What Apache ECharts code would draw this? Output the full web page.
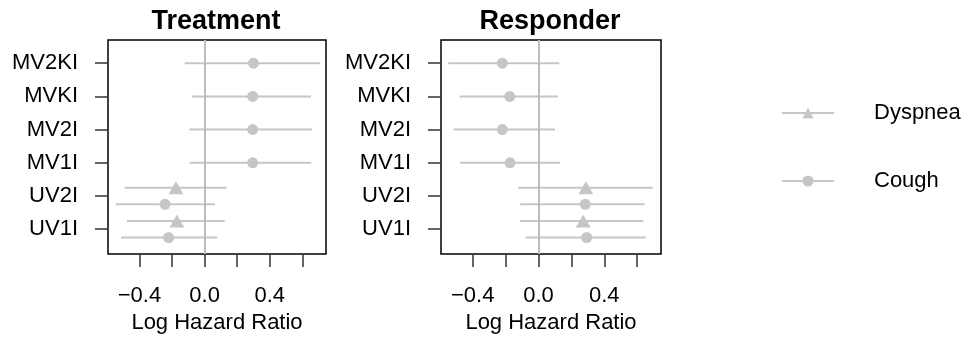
<!DOCTYPE html>
<html style="height: 100%">
<head>
  <meta charset="utf-8">
  <title>forest</title>
</head>
<body style="height: 100%; margin: 0; background: #fff">
<div id="container" style="width: 974px; height: 339px"></div>
<script src="https://cdn.jsdelivr.net/npm/echarts@6/dist/echarts.min.js"></script>
<script type="text/javascript">
  // rows from bottom to top
  var rows = ['UV1I', 'UV2I', 'MV1I', 'MV2I', 'MVKI', 'MV2KI'];
  var xTicks = [-0.4, -0.2, 0, 0.2, 0.4, 0.6];
  var xLabels = [-0.4, 0, 0.4];

  // Treatment panel
  var trtCoughEst = [-0.221, -0.243, 0.295, 0.295, 0.295, 0.300];
  var trtCoughLo  = [-0.513, -0.546, -0.092, -0.094, -0.077, -0.123];
  var trtCoughHi  = [0.078, 0.064, 0.655, 0.659, 0.653, 0.710];
  var trtDysEst   = [-0.170, -0.176, null, null, null, null];
  var trtDysLo    = [-0.476, -0.490, null, null, null, null];
  var trtDysHi    = [0.123, 0.135, null, null, null, null];

  // Responder panel
  var rspCoughEst = [0.293, 0.284, -0.173, -0.220, -0.175, -0.220];
  var rspCoughLo  = [-0.079, -0.112, -0.476, -0.516, -0.480, -0.549];
  var rspCoughHi  = [0.652, 0.646, 0.130, 0.100, 0.118, 0.126];
  var rspDysEst   = [0.272, 0.288, null, null, null, null];
  var rspDysLo    = [-0.112, -0.124, null, null, null, null];
  var rspDysHi    = [0.638, 0.695, null, null, null, null];

  var grey = '#c6c6c6';
  var font = 'Liberation Sans, Arial, sans-serif';

  function rowY(i, kind) {
    var hasDys = trtDysEst[i] != null;
    if (!hasDys) return i + 1;
    return kind === 'dys' ? i + 1.25 : i + 0.75;
  }

  function points(est, kind) {
    var out = [];
    for (var i = 0; i < est.length; i++) {
      if (est[i] != null) out.push([est[i], rowY(i, kind)]);
    }
    return out;
  }
  function bars(lo, hi, kind) {
    var out = [];
    for (var i = 0; i < lo.length; i++) {
      if (lo[i] != null) out.push([lo[i], hi[i], rowY(i, kind)]);
    }
    return out;
  }

  function renderBar(params, api) {
    var a = api.coord([api.value(0), api.value(2)]);
    var b = api.coord([api.value(1), api.value(2)]);
    return {
      type: 'line',
      shape: { x1: a[0], y1: a[1], x2: b[0], y2: b[1] },
      style: { stroke: grey, lineWidth: 2 }
    };
  }

  function xAxis(g) {
    return {
      type: 'value', gridIndex: g, min: -0.593, max: 0.745,
      name: 'Log Hazard Ratio', nameLocation: 'middle', nameGap: 55,
      nameTextStyle: { color: '#000', fontSize: 22, fontFamily: font },
      axisLine: { show: false, onZero: false },
      splitLine: { show: false },
      axisTick: { customValues: xTicks, length: 13, lineStyle: { color: '#333', width: 1.5 } },
      axisLabel: {
        customValues: xLabels, margin: 31, color: '#000', fontSize: 22, fontFamily: font,
        formatter: function (v) { return (v < 0 ? '\u2212' : '') + Math.abs(v).toFixed(1); }
      }
    };
  }
  function yAxis(g) {
    return {
      type: 'value', gridIndex: g, min: 0.25, max: 6.7,
      axisLine: { show: false, onZero: false },
      splitLine: { show: false },
      axisTick: { customValues: [1, 2, 3, 4, 5, 6], length: 13, lineStyle: { color: '#333', width: 1.5 } },
      axisLabel: {
        customValues: [1, 2, 3, 4, 5, 6], margin: 30, color: '#000', fontSize: 22, fontFamily: font,
        formatter: function (v) { return rows[Math.round(v) - 1]; }
      }
    };
  }

  function panelSeries(g, cEst, cLo, cHi, dEst, dLo, dHi) {
    return [
      {
        type: 'custom', xAxisIndex: g, yAxisIndex: g, renderItem: renderBar,
        encode: { x: [0, 1], y: 2 }, data: bars(cLo, cHi, 'cough'), silent: true,
        markLine: {
          silent: true, symbol: 'none', label: { show: false },
          lineStyle: { color: '#bdbdbd', width: 2, type: 'solid' },
          data: [{ xAxis: 0 }]
        }
      },
      {
        type: 'custom', xAxisIndex: g, yAxisIndex: g, renderItem: renderBar,
        encode: { x: [0, 1], y: 2 }, data: bars(dLo, dHi, 'dys'), silent: true
      },
      {
        type: 'scatter', xAxisIndex: g, yAxisIndex: g, symbol: 'circle', symbolSize: 11,
        itemStyle: { color: grey, opacity: 1 }, data: points(cEst, 'cough'), z: 3
      },
      {
        type: 'scatter', xAxisIndex: g, yAxisIndex: g, symbol: 'triangle', symbolSize: [15, 13],
        itemStyle: { color: grey, opacity: 1 }, data: points(dEst, 'dys'), z: 3
      }
    ];
  }

  var chart = echarts.init(document.getElementById('container'));
  var series = []
    .concat(panelSeries(0, trtCoughEst, trtCoughLo, trtCoughHi, trtDysEst, trtDysLo, trtDysHi))
    .concat(panelSeries(1, rspCoughEst, rspCoughLo, rspCoughHi, rspDysEst, rspDysLo, rspDysHi));

  // legend-only series
  series.push({
    name: 'Dyspnea', type: 'line', data: [], symbol: 'triangle', symbolSize: 14,
    itemStyle: { color: grey }, lineStyle: { color: grey, width: 2 }
  });
  series.push({
    name: 'Cough', type: 'line', data: [], symbol: 'circle', symbolSize: 11,
    itemStyle: { color: grey }, lineStyle: { color: grey, width: 2 }
  });

  var option = {
    animation: false,
    title: [
      { text: 'Treatment', left: 216, top: 8, textAlign: 'center', padding: 0,
        textStyle: { fontSize: 27, fontWeight: 'bold', color: '#000', fontFamily: font } },
      { text: 'Responder', left: 550, top: 8, textAlign: 'center', padding: 0,
        textStyle: { fontSize: 27, fontWeight: 'bold', color: '#000', fontFamily: font } }
    ],
    grid: [
      { left: 108, top: 40, width: 218, height: 215, show: true, borderColor: '#000', borderWidth: 1.5, backgroundColor: 'transparent' },
      { left: 441, top: 40, width: 220, height: 215, show: true, borderColor: '#000', borderWidth: 1.5, backgroundColor: 'transparent' }
    ],
    legend: {
      data: ['Dyspnea', 'Cough'], orient: 'vertical', left: 781, top: 102,
      itemWidth: 52, itemHeight: 14, itemGap: 46, padding: 0,
      selectedMode: false,
      textStyle: { fontSize: 22, color: '#000', fontFamily: font, padding: [0, 0, 0, 35] }
    },
    xAxis: [xAxis(0), xAxis(1)],
    yAxis: [yAxis(0), yAxis(1)],
    series: series
  };
  chart.setOption(option);
</script>
</body>
</html>
